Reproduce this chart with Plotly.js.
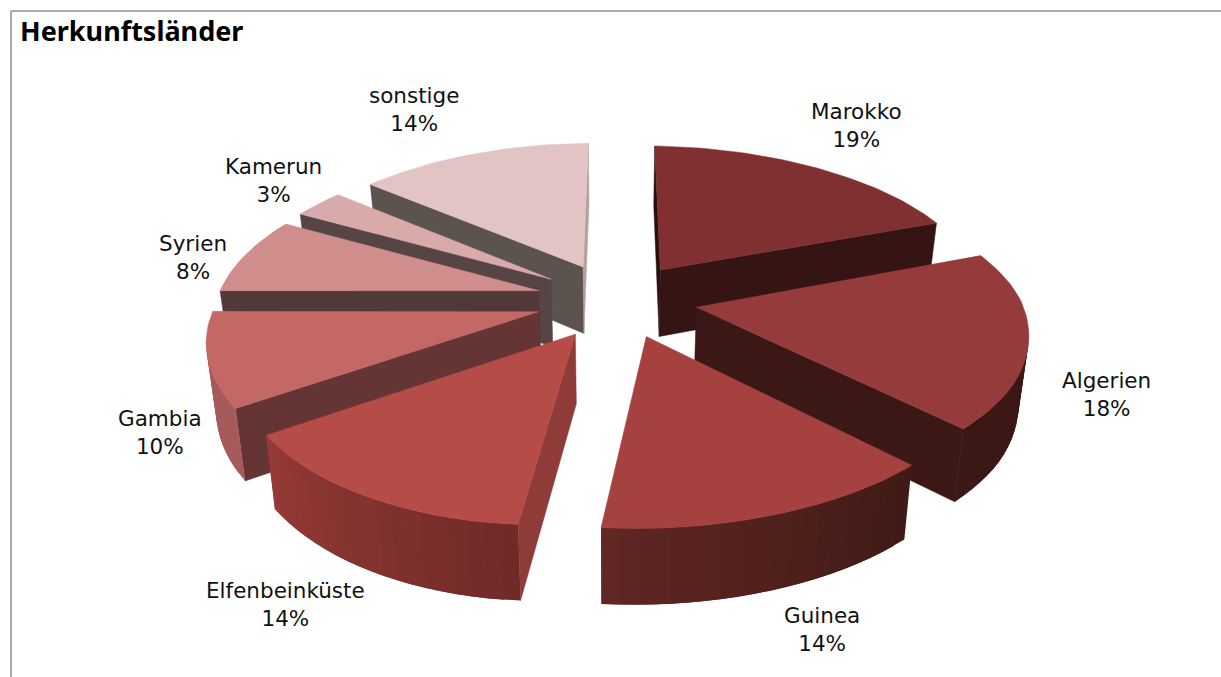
<!DOCTYPE html>
<html><head><meta charset="utf-8">
<script src="https://cdn.plot.ly/plotly-3.0.1.min.js"></script>
<style>html,body{margin:0;padding:0;background:#fff}#c{width:1221px;height:677px}</style></head>
<body><div id="c"></div>
<script>
// Data
const categories = ["Marokko","Algerien","Guinea","Elfenbeinküste","Gambia","Syrien","Kamerun","sonstige"];
const shares = [19,18,14,14,10,8,3,14];
const chartTitle = "Herkunftsländer";

// Styles
const topColors  = ["#803030","#963b3b","#a54240","#b54c48","#c46866","#cf8e8c","#d8aaaa","#e2c4c5"];
const endWall    = ["#351414","#3b1716","#3b1716","#653535","#653535","#523838","#574444","#b5a0a0"];
const startWall  = ["#2a0f0f","#3b1716","#3b1716","#8f3b38","#653535","#523838","#574444","#5c524e"];
const arcEndCol  = ["#351414","#3b1716","#612723","#963a36","#a65a5a","#a65a5a","#b08a8a","#b09c9c"];
const arcStartCol= ["#351414","#3b1716","#3f1a16","#6f2a28","#a65a5a","#a65a5a","#b08a8a","#b09c9c"];
const labelX = [856,1106,822,285,160,193,273,414];
const labelY = [125,394,629,604,432,257,180,109];
const drawOrder = [7,0,6,5,1,4,3,2];

// Projection of the tilted, exploded pie onto the (pixel-sized) axes
const cx=616, cy=300, A=151, K=0.1485, H=68, PULL=0.25, CAM=-1/K;
function proj(X,Y,Z){
  const w=1+K*Y, B=X>0?325:322;
  let sx=B*X/w, sy=-A*Y/w;
  if(sy>0) sx-=26*(sy/225)*(sy/225);
  else if(X<0) sx+=0.04*(-sy)*Math.min(1,-X/0.5);
  if(X>0) sy+=(Y<0?5:3)*Math.min(1,X/0.8)*Math.min(1,Math.abs(Y)/0.5);
  if(X<-0.3&&Y<0) sy-=3*Math.min(1,(-X-0.3)/0.5)*Math.min(1,-Y/0.5);
  sx*=1-0.025*Z;
  sy+=Z*H*(1-0.1*Y);
  return [cx+sx,cy+sy];
}
const rad=d=>d*Math.PI/180;
const total=shares.reduce((a,b)=>a+b,0);
let acc=0;
const slices=shares.map(v=>{const a0=acc/total*360;acc+=v;return {a0,a1:acc/total*360};});

function hex(c){return [1,3,5].map(i=>parseInt(c.substr(i,2),16));}
function mix(a,b,t){const p=hex(a),q=hex(b);return "rgb("+p.map((v,i)=>Math.round(v+(q[i]-v)*t)).join(",")+")";}

const traces=[];
function poly(pts,color,name,lw){
  traces.push({type:"scatter",mode:"lines",name,x:pts.map(p=>p[0]).concat(pts[0][0]),y:pts.map(p=>p[1]).concat(pts[0][1]),
    fill:"toself",fillcolor:color,line:{color,width:lw||0},hoverinfo:"skip",showlegend:false});
}
drawOrder.forEach(i=>{
  const s=slices[i], mid=rad((s.a0+s.a1)/2);
  const ox=PULL*Math.sin(mid), oy=PULL*Math.cos(mid);
  const P=(th,r,z)=>proj(ox+r*Math.sin(rad(th)),oy+r*Math.cos(rad(th)),z);
  const nm=categories[i];
  // radial faces, only when they turn towards the camera
  const ca0=-Math.cos(rad(s.a0))*(0-ox)+Math.sin(rad(s.a0))*(CAM-oy);
  const ca1= Math.cos(rad(s.a1))*(0-ox)-Math.sin(rad(s.a1))*(CAM-oy);
  if(ca0>0) poly([P(s.a0,0,0),P(s.a0,1,0),P(s.a0,1,1),P(s.a0,0,1)],startWall[i],nm,0.5);
  if(ca1>0) poly([P(s.a1,0,0),P(s.a1,1,0),P(s.a1,1,1),P(s.a1,0,1)],endWall[i],nm,0.5);
  // outer wall, shaded in overlapping strips so no seams appear
  const n=Math.max(2,Math.round((s.a1-s.a0)/2.5));
  for(let k=0;k<n;k++){
    const t0=s.a0+(s.a1-s.a0)*k/n, t1=s.a0+(s.a1-s.a0)*Math.min(n,k+2)/n, tm=(t0+t1)/2;
    const px=ox+Math.sin(rad(tm)), py=oy+Math.cos(rad(tm));
    if(Math.sin(rad(tm))*(0-px)+Math.cos(rad(tm))*(CAM-py)<=0) continue;
    poly([P(t0,1,0),P(t1,1,0),P(t1,1,1),P(t0,1,1)],mix(arcStartCol[i],arcEndCol[i],(k+.5)/n),nm);
  }
  // top face
  const pts=[P(s.a0,0,0)];
  const m=Math.round((s.a1-s.a0)/1.5);
  for(let k=0;k<=m;k++) pts.push(P(s.a0+(s.a1-s.a0)*k/m,1,0));
  poly(pts,topColors[i],nm,0.5);
});

const labelFont={family:"'DejaVu Sans',sans-serif",size:21.5,color:"#111"};
const annotations=categories.map((c,i)=>({x:labelX[i],y:labelY[i],xref:"x",yref:"y",text:c+"<br>"+shares[i]+"%",
  showarrow:false,xanchor:"center",yanchor:"middle",align:"center",font:labelFont}));

const layout={
  width:1221,height:677,margin:{l:0,r:0,t:0,b:0},paper_bgcolor:"#fff",plot_bgcolor:"#fff",
  title:{text:"<b>"+chartTitle+"</b>",x:20/1221,y:1-32/677,xref:"paper",yref:"paper",xanchor:"left",yanchor:"middle",
    font:{family:"'Noto Sans',sans-serif",size:27,color:"#000"}},
  xaxis:{range:[0,1221],visible:false,fixedrange:true},
  yaxis:{range:[677,0],visible:false,fixedrange:true},
  annotations,
  shapes:[
    {type:"line",xref:"x",yref:"y",x0:11,x1:1221,y0:11,y1:11,line:{color:"#8c8c8c",width:1.5}},
    {type:"line",xref:"x",yref:"y",x0:11,x1:11,y0:11,y1:677,line:{color:"#8c8c8c",width:1.5}}
  ],
  showlegend:false
};
Plotly.newPlot("c",traces,layout,{displayModeBar:false,staticPlot:true});
</script></body></html>
